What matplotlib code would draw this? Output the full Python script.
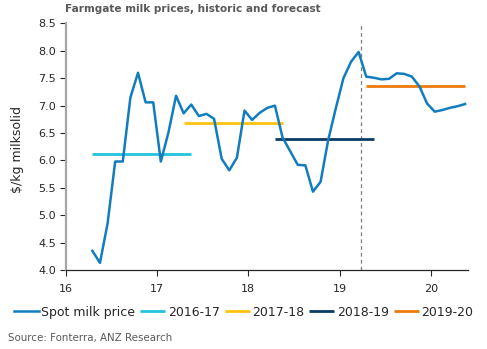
import matplotlib
matplotlib.use("Agg")
import matplotlib.pyplot as plt
import pandas as pd

# ---- data ----
start_month = "2016-04"
spot_price = [4.35, 4.13, 4.85, 5.98, 5.98, 7.15, 7.60, 7.06, 7.06, 5.98,
              6.51, 7.18, 6.86, 7.02, 6.81, 6.85, 6.76, 6.03, 5.82, 6.05,
              6.91, 6.74, 6.87, 6.96, 7.00, 6.42, 6.17, 5.92, 5.91, 5.43,
              5.61, 6.37, 6.95, 7.50, 7.80, 7.98, 7.53, 7.51, 7.48, 7.49,
              7.59, 7.58, 7.53, 7.35, 7.04, 6.89, 6.92, 6.96, 6.99, 7.03]

season_labels = ["2016-17", "2017-18", "2018-19", "2019-20"]
season_values = [6.12, 6.69, 6.40, 7.35]
season_start_idx = [0, 12, 24, 36]
season_end_idx = [13, 25, 37, 49]

forecast_marker = 19.23
xtick_vals = [16, 17, 18, 19, 20]
xtick_labels = ["16", "17", "18", "19", "20"]
ytick_vals = [4.0, 4.5, 5.0, 5.5, 6.0, 6.5, 7.0, 7.5, 8.0, 8.5]

# ---- styling ----
spot_color = "#127DBE"
season_colors = ["#22C4DD", "#FFC20E", "#0B3C64", "#EE7A0C"]
text_color = "#262626"

months = pd.date_range(start_month, periods=len(spot_price), freq="MS")
x = [(d.year - 2000) + (d.month - 0.5) / 12 for d in months]

fig = plt.figure(figsize=(4.87, 3.49), dpi=100)
ax = fig.add_axes([0.135, 0.2264, 0.8266, 0.7063])

ax.plot(x, spot_price, color=spot_color, lw=1.8, label="Spot milk price", zorder=3)
for lab, val, s, e, c in zip(season_labels, season_values, season_start_idx,
                             season_end_idx, season_colors):
    ax.plot([x[s], x[e]], [val, val], color=c, lw=2.0, label=lab, zorder=2,
            solid_capstyle="butt")

ax.axvline(forecast_marker, color="#7f7f7f", lw=0.9, ls=(0, (3, 2.5)), zorder=1)

ax.set_xlim(16, 20.41)
ax.set_ylim(4.0, 8.5)
ax.set_xticks(xtick_vals)
ax.set_xticklabels(xtick_labels)
ax.set_yticks(ytick_vals)
ax.set_yticklabels([f"{v:.1f}" for v in ytick_vals])

for s in ["top", "right"]:
    ax.spines[s].set_visible(False)
ax.spines["left"].set_color("#a6a6a6")
ax.spines["left"].set_linewidth(1.6)
ax.spines["bottom"].set_color("#262626")
ax.spines["bottom"].set_linewidth(0.9)
ax.tick_params(axis="both", labelsize=8, colors=text_color, length=4, width=0.8)
ax.tick_params(axis="x", pad=6)
ax.tick_params(axis="y", pad=3)

fig.text(18 / 487, 0.573, "$/kg milksolid", fontsize=9, color=text_color,
         rotation=90, ha="center", va="center")

fig.text(65 / 487, 1 - 8.5 / 349, "Farmgate milk prices, historic and forecast",
         fontsize=7.6, fontweight="bold", color="#595959", va="center", ha="left")

leg = fig.legend(loc="center", bbox_to_anchor=(0.5, 0.106), ncol=5, frameon=False,
                 fontsize=9, handlelength=2.0, handletextpad=0.2,
                 columnspacing=0.4)
for t in leg.get_texts():
    t.set_color(text_color)

fig.text(0.016, 1 - 338 / 349, "Source: Fonterra, ANZ Research", fontsize=7.4,
         color="#595959", va="center", ha="left")

fig.savefig("out.png", dpi=100)
